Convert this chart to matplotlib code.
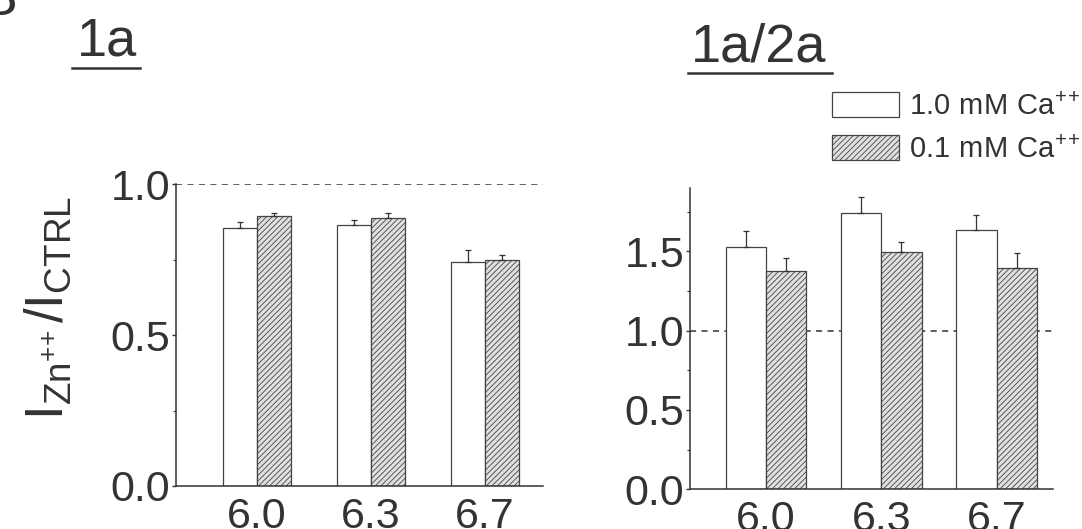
import numpy as np
import matplotlib
matplotlib.use("Agg")
import matplotlib.pyplot as plt
from matplotlib.lines import Line2D
from matplotlib.ticker import MultipleLocator

# =========================
# DATA
# =========================
ph_labels = ['6.0', '6.3', '6.7']

# panel 1a : I_Zn / I_CTRL
a_high_ca = [0.857, 0.866, 0.742]
a_high_err = [0.019, 0.017, 0.040]
a_low_ca = [0.895, 0.888, 0.750]
a_low_err = [0.010, 0.017, 0.015]

# panel 1a/2a
b_high_ca = [1.530, 1.743, 1.633]
b_high_err = [0.096, 0.096, 0.097]
b_low_ca = [1.374, 1.496, 1.393]
b_low_err = [0.083, 0.065, 0.098]

legend_labels = [r'$\mathregular{1.0\ mM\ Ca^{+\!+}}$', r'$\mathregular{0.1\ mM\ Ca^{+\!+}}$']

# =========================
# STYLE
# =========================
ink = '#333333'
plt.rcParams['font.family'] = ['Liberation Sans', 'DejaVu Sans']
plt.rcParams['mathtext.fontset'] = 'custom'
plt.rcParams['mathtext.rm'] = 'Liberation Sans'
plt.rcParams['mathtext.default'] = 'regular'
plt.rcParams['hatch.linewidth'] = 0.6
plt.rcParams['hatch.color'] = '#555555'
plt.rcParams['text.color'] = ink
plt.rcParams['axes.edgecolor'] = ink
plt.rcParams['xtick.color'] = ink
plt.rcParams['ytick.color'] = ink

fig = plt.figure(figsize=(10.82, 5.29), dpi=100)
ax1 = fig.add_axes([0.1627, 0.0813, 0.339, 0.570])
ax2 = fig.add_axes([0.6377, 0.075, 0.3355, 0.570])

x = np.arange(1, len(ph_labels) + 1)


def draw_panel(ax, high, high_err, low, low_err, w, xlim, ylim, minor):
    zeros = np.zeros(len(high))
    ax.axhline(1.0, color=ink, lw=1.1, ls=(0, (4, 3.5)), zorder=1)
    b1 = ax.bar(x - w / 2, high, w, color='white', edgecolor='#444444', lw=0.9,
                yerr=[zeros, high_err], capsize=2.5,
                error_kw=dict(ecolor=ink, elinewidth=0.9, capthick=0.9), zorder=2)
    b2 = ax.bar(x + w / 2, low, w, color='#e0e0e0', edgecolor='#444444', lw=0.9,
                hatch='//////', yerr=[zeros, low_err], capsize=2.5,
                error_kw=dict(ecolor=ink, elinewidth=0.9, capthick=0.9), zorder=2)
    ax.set_xlim(*xlim)
    ax.set_ylim(*ylim)
    ax.set_xticks(x)
    ax.set_xticklabels(ph_labels)
    ax.yaxis.set_major_locator(MultipleLocator(0.5))
    ax.yaxis.set_minor_locator(MultipleLocator(minor))
    ax.spines['top'].set_visible(False)
    ax.spines['right'].set_visible(False)
    ax.spines['left'].set_linewidth(1.1)
    ax.spines['bottom'].set_linewidth(1.1)
    ax.tick_params(axis='y', which='major', direction='out', length=3, width=1,
                   labelsize=31, pad=1)
    ax.tick_params(axis='y', which='minor', direction='out', length=2, width=0.8)
    ax.tick_params(axis='x', length=0, labelsize=31, pad=8)
    ax.yaxis.set_major_formatter(matplotlib.ticker.FormatStrFormatter('%.1f'))
    return b1, b2


draw_panel(ax1, a_high_ca, a_high_err, a_low_ca, a_low_err, 0.30,
           (0.29, 3.51), (0, 1.0), 0.25)
h1, h2 = draw_panel(ax2, b_high_ca, b_high_err, b_low_ca, b_low_err, 0.35,
                    (0.34, 3.49), (0, 1.9), 0.25)

# y label
fig.text(48 / 1082, 1 - 308 / 529, r'$\mathregular{I_{Zn^{+\!+}}/I_{CTRL}}$',
         rotation=90, ha='center', va='center', fontsize=38)

# panel titles with underline
fig.text(107 / 1082, 1 - 55 / 529, '1a', ha='center', va='baseline', fontsize=39)
fig.add_artist(Line2D([72 / 1082, 140 / 1082], [1 - 68 / 529, 1 - 68 / 529],
                      color=ink, lw=1.8, transform=fig.transFigure))
fig.text(759 / 1082, 1 - 62 / 529, '1a/2a', ha='center', va='baseline', fontsize=39)
fig.add_artist(Line2D([688 / 1082, 832 / 1082], [1 - 73 / 529, 1 - 73 / 529],
                      color=ink, lw=1.8, transform=fig.transFigure))

# panel letter, mostly cut off at the top edge
fig.text(17 / 1082, 1 - 15 / 529, 'B', ha='right', va='baseline', fontsize=40)

# legend
fig.legend([h1, h2], legend_labels, loc='upper left',
           bbox_to_anchor=(832 / 1082, 1 - 92 / 529), bbox_transform=fig.transFigure,
           frameon=False, fontsize=21, borderpad=0, borderaxespad=0,
           handlelength=2.3, handleheight=0.95, handletextpad=0.35, labelspacing=0.5)

fig.savefig('out.png', dpi=100)
